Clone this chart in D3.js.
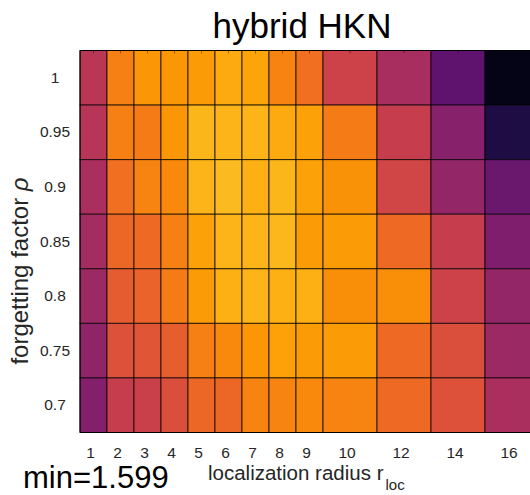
<!DOCTYPE html>
<html>
<head>
<meta charset="utf-8">
<script src="https://cdn.jsdelivr.net/npm/d3@7"></script>
<style>
  body { margin: 0; background: #fff; }
  svg { display: block; font-family: "Liberation Sans", Arial, Helvetica, sans-serif; }
</style>
</head>
<body>
<svg id="chart" width="530" height="495"></svg>
<script>
// ---- data ----
const radii = [1, 2, 3, 4, 5, 6, 7, 8, 9, 10, 12, 14, 16];
const rhos = [1, 0.95, 0.9, 0.85, 0.8, 0.75, 0.7];
const xTickLabels = ["1", "2", "3", "4", "5", "6", "7", "8", "9", "10", "12", "14", "16"];
const yTickLabels = ["1", "0.95", "0.9", "0.85", "0.8", "0.75", "0.7"];
const rmse_rho100 = [1.944, 1.721, 1.670, 1.670, 1.660, 1.630, 1.640, 1.711, 1.761, 1.893, 1.994, 2.176, 2.409];
const rmse_rho095 = [1.954, 1.721, 1.731, 1.670, 1.605, 1.609, 1.609, 1.630, 1.650, 1.731, 1.913, 2.075, 2.328];
const rmse_rho090 = [1.984, 1.761, 1.711, 1.700, 1.609, 1.599, 1.619, 1.607, 1.650, 1.680, 1.883, 2.045, 2.146];
const rmse_rho085 = [2.004, 1.781, 1.771, 1.721, 1.650, 1.609, 1.609, 1.603, 1.660, 1.660, 1.771, 1.913, 2.095];
const rmse_rho080 = [2.025, 1.812, 1.792, 1.731, 1.660, 1.619, 1.609, 1.619, 1.619, 1.690, 1.690, 1.893, 2.045];
const rmse_rho075 = [2.055, 1.842, 1.832, 1.802, 1.721, 1.700, 1.670, 1.650, 1.660, 1.660, 1.771, 1.852, 2.025];
const rmse_rho070 = [2.085, 1.913, 1.903, 1.852, 1.781, 1.781, 1.711, 1.711, 1.700, 1.711, 1.771, 1.842, 1.984];
const rmseRows = [rmse_rho100, rmse_rho095, rmse_rho090, rmse_rho085, rmse_rho080, rmse_rho075, rmse_rho070];
const titleText = "hybrid HKN";

(function () {
// ---- layout ----
const svg = d3.select("#chart");
const plotLeft = 80, plotTop = 50.5, plotBottom = 432.5, unitPx = 27;
// column widths in grid units: radii below 10 occupy one unit, larger radii two
const colUnits = radii.map(r => (r < 10 ? 1 : 2));
const edges = [0];
colUnits.forEach(u => edges.push(edges[edges.length - 1] + u));
const totalUnits = edges[edges.length - 1];
const x = d3.scaleLinear().domain([0, totalUnits]).range([plotLeft, plotLeft + totalUnits * unitPx]);
const y = d3.scaleBand().domain(rhos).range([plotTop, plotBottom]).paddingInner(0).paddingOuter(0);

const minVal = d3.min(rmseRows.flat());
const color = d3.scaleSequential(d3.interpolateInferno).domain([2.45, 1.437]);

const cells = [];
rmseRows.forEach((row, i) => row.forEach((v, j) => cells.push({ rho: rhos[i], j, v })));

svg.append("g").selectAll("rect").data(cells).join("rect")
  .attr("x", d => x(edges[d.j]))
  .attr("y", d => y(d.rho))
  .attr("width", d => x(edges[d.j + 1]) - x(edges[d.j]))
  .attr("height", y.bandwidth())
  .attr("fill", d => color(d.v))
  .attr("stroke", "#000")
  .attr("stroke-opacity", 0.75)
  .attr("stroke-width", 1);

// axis frame
const plotRight = x(totalUnits);
svg.append("path")
  .attr("d", `M${plotRight},${plotTop}H${plotLeft}V${plotBottom}H${plotRight}`)
  .attr("fill", "none").attr("stroke", "#000").attr("stroke-width", 1);

// small inward ticks at top
const centers = radii.map((r, j) => (x(edges[j]) + x(edges[j + 1])) / 2);
svg.append("g").selectAll("line").data(centers).join("line")
  .attr("x1", d => d).attr("x2", d => d)
  .attr("y1", plotTop).attr("y2", plotTop + 3)
  .attr("stroke", "#000").attr("stroke-opacity", 0.4);

// x tick labels
svg.append("g").selectAll("text").data(xTickLabels).join("text")
  .attr("x", (d, j) => centers[j] - 3)
  .attr("y", 458)
  .attr("text-anchor", "middle")
  .attr("font-size", 15.5)
  .attr("fill", "#262626")
  .text(d => d);

// y tick labels
svg.append("g").selectAll("text").data(yTickLabels).join("text")
  .attr("x", 55)
  .attr("y", (d, i) => y(rhos[i]) + y.bandwidth() / 2 + 5)
  .attr("text-anchor", "middle")
  .attr("font-size", 15.5)
  .attr("fill", "#262626")
  .text(d => d);

// title
svg.append("text")
  .attr("x", 302).attr("y", 38)
  .attr("text-anchor", "middle")
  .attr("font-size", 35)
  .attr("fill", "#000")
  .text(titleText);

// min annotation
svg.append("text")
  .attr("x", 23).attr("y", 488)
  .attr("font-size", 31)
  .attr("fill", "#000")
  .text("min=" + minVal.toFixed(3));

// x label with subscript
const xl = svg.append("text")
  .attr("x", 208).attr("y", 480)
  .attr("font-size", 20.5)
  .attr("fill", "#262626");
xl.append("tspan").text("localization radius r");
xl.append("tspan").attr("dy", 10).attr("dx", 2).attr("font-size", 15).text("loc");

// y label
const yl = svg.append("text")
  .attr("transform", "translate(28,271) rotate(-90)")
  .attr("text-anchor", "middle")
  .attr("font-size", 24)
  .attr("fill", "#262626");
yl.append("tspan").text("forgetting factor  ");
yl.append("tspan").attr("font-style", "italic").text("ρ");
})();
</script>
</body>
</html>
